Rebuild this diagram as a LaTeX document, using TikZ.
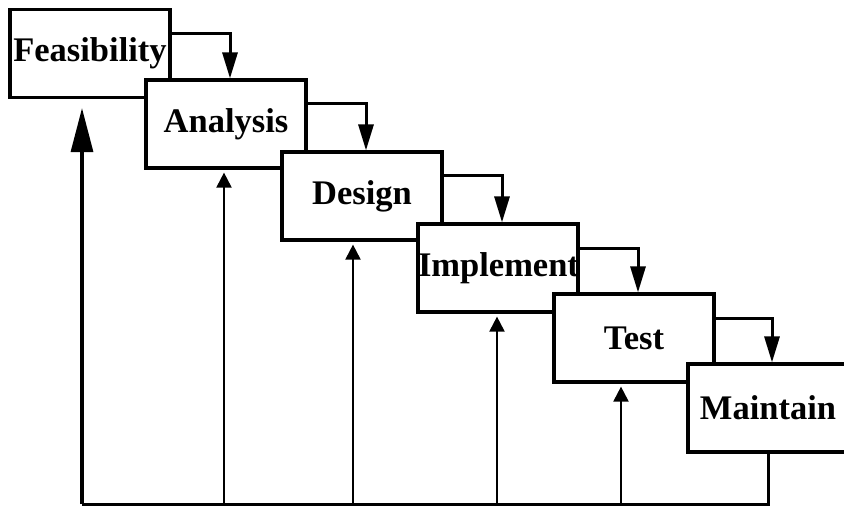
\documentclass[tikz,border=0pt]{standalone}
\usepackage{fontspec}
\setmainfont{Liberation Serif}
\usetikzlibrary{arrows.meta}
\begin{document}
\begin{tikzpicture}[x=1pt,y=-1pt]
                \tikzstyle{phase}=[rectangle,draw,fill=white,line width=3.2pt,inner xsep=0pt,
                    text width=160pt,minimum height=88pt,align=center,
                    font=\fontsize{34.5}{40}\selectfont\bfseries]
                \tikzstyle{down}=[line width=3pt,-{Triangle[length=26pt,width=15pt]}]
                \tikzstyle{back}=[line width=2pt,-{Triangle[length=15pt,width=15pt]}]
                \tikzstyle{bigback}=[line width=3.2pt,-{Triangle[length=44pt,width=22pt]}]
                \useasboundingbox (0,0) rectangle (844,508);
                % the six phases
                \node[phase] (feas) at (90,53.5) {Feasibility};
                \node[phase] (anal) at (226,124) {Analysis};
                \node[phase] (des) at (362,196) {Design};
                \node[phase] (impl) at (498,268) {Implement};
                \node[phase] (test) at (634,338) {Test};
                \node[phase] (maint) at (768,408) {Maintain};
                % flow down the steps
                \foreach \a/\b in {feas/anal,anal/des,des/impl,impl/test,test/maint}
                    \draw[down] ([yshift=20pt]\a.east) -| ([xshift=4pt]\b.north);
                % going back
                \coordinate (base) at (82,504);
                \draw[line width=3pt] (maint.south) -- (maint.south |- base) -- (base);
                \draw[bigback] (base) -- ([yshift=-9pt]base |- feas.south);
                \foreach \n/\dx in {anal/-2,des/-9,impl/-1,test/-13}{
                    \coordinate (tip\n) at ([xshift=\dx pt,yshift=-3pt]\n.south);
                    \draw[back] (tip\n |- base) -- (tip\n);
                }
\end{tikzpicture}
\end{document}
